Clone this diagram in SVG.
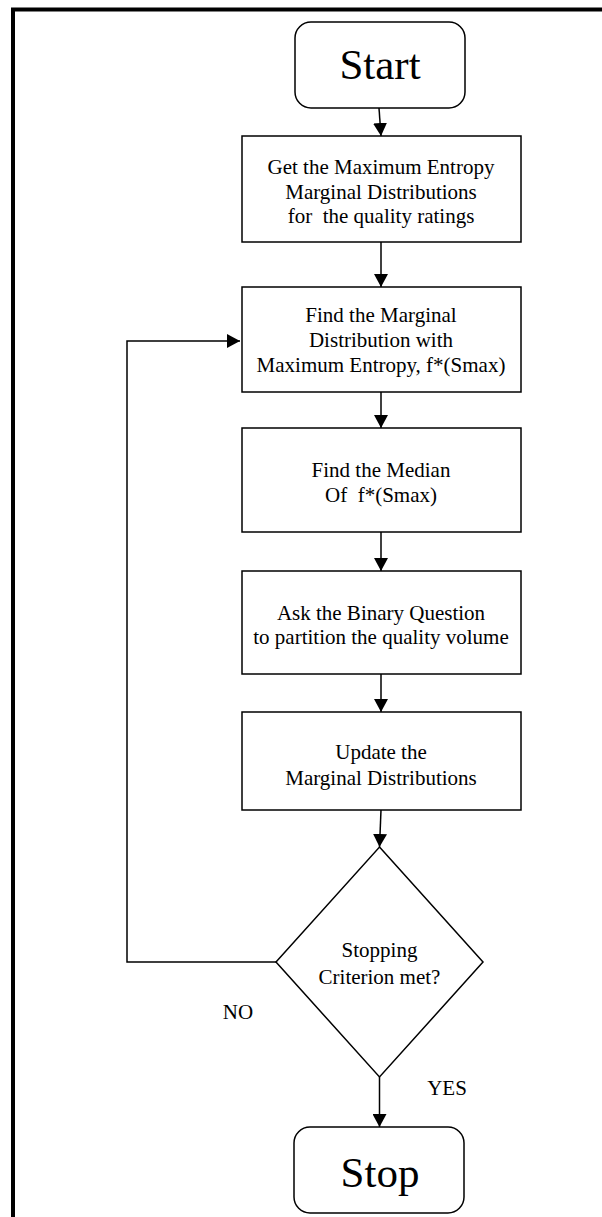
<svg xmlns="http://www.w3.org/2000/svg" width="602" height="1217" viewBox="0 0 602 1217">
<defs>
<marker id="arr" viewBox="0 0 13 14" refX="13" refY="7" markerWidth="13" markerHeight="14" markerUnits="userSpaceOnUse" orient="auto">
<path d="M0,0 L13,7 L0,14 Z" fill="#000"/>
</marker>
<style>
.box{fill:#fff;stroke:#000;stroke-width:1.5}
.t{font-family:"Liberation Serif","Times New Roman",serif;font-size:21px;text-anchor:middle;fill:#000}
.big{font-family:"Liberation Serif","Times New Roman",serif;font-size:43px;text-anchor:middle;fill:#000}
.c{fill:none;stroke:#000;stroke-width:1.5;marker-end:url(#arr)}
</style>
</defs>
<rect width="602" height="1217" fill="#fff"/>
<path d="M13,1217 V9.5 H602" fill="none" stroke="#000" stroke-width="4"/>
<g id="connectors">
<line class="c" x1="379" y1="108" x2="381" y2="136"/>
<line class="c" x1="381" y1="242" x2="381" y2="287"/>
<line class="c" x1="381" y1="392" x2="381" y2="428"/>
<line class="c" x1="381" y1="532" x2="381" y2="571"/>
<line class="c" x1="381" y1="674" x2="381" y2="712"/>
<line class="c" x1="381" y1="810" x2="379.5" y2="847"/>
<line class="c" x1="379.5" y1="1077" x2="379.5" y2="1127"/>
<polyline class="c" points="276,962 127,962 127,341 240,341"/>
</g>
<g id="start">
<rect class="box" x="295" y="22" width="170" height="86" rx="16"/>
<text class="big" x="380" y="79">Start</text>
</g>
<g id="box1">
<rect class="box" x="242" y="136" width="279" height="106"/>
<text class="t" x="381" y="174">Get the Maximum Entropy</text>
<text class="t" x="381" y="199">Marginal Distributions</text>
<text class="t" x="381" y="223" xml:space="preserve">for  the quality ratings</text>
</g>
<g id="box2">
<rect class="box" x="242" y="287" width="279" height="105"/>
<text class="t" x="381" y="322">Find the Marginal</text>
<text class="t" x="381" y="347">Distribution with</text>
<text class="t" x="381" y="372">Maximum Entropy, f*(Smax)</text>
</g>
<g id="box3">
<rect class="box" x="242" y="428" width="279" height="104"/>
<text class="t" x="381" y="477">Find the Median</text>
<text class="t" x="381" y="502" xml:space="preserve">Of  f*(Smax)</text>
</g>
<g id="box4">
<rect class="box" x="242" y="571" width="279" height="103"/>
<text class="t" x="381" y="620">Ask the Binary Question</text>
<text class="t" x="381" y="644">to partition the quality volume</text>
</g>
<g id="box5">
<rect class="box" x="242" y="712" width="279" height="98"/>
<text class="t" x="381" y="759">Update the</text>
<text class="t" x="381" y="785">Marginal Distributions</text>
</g>
<g id="decision">
<polygon class="box" points="379.5,847 483,962 379.5,1077 276,962"/>
<text class="t" x="379.5" y="957">Stopping</text>
<text class="t" x="379.5" y="984">Criterion met?</text>
</g>
<g id="labels">
<text class="t" x="238" y="1019">NO</text>
<text class="t" x="447" y="1095">YES</text>
</g>
<g id="stop">
<rect class="box" x="294" y="1127" width="170" height="86" rx="16"/>
<text class="big" x="380" y="1187">Stop</text>
</g>
</svg>
